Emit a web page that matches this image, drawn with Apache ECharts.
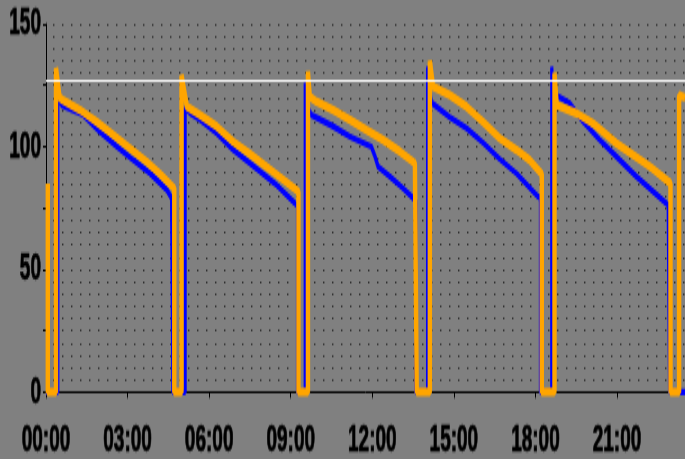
<!DOCTYPE html>
<html><head><meta charset="utf-8">
<script src="https://cdn.jsdelivr.net/npm/echarts@6/dist/echarts.min.js"></script>
<style>
html,body{margin:0;padding:0;background:#808080;overflow:hidden;width:685px;height:459px;}
#chart{width:685px;height:230px;transform:scaleY(1.99565);transform-origin:0 0;}
</style></head><body><div id="chart"></div>
<script>
const xTickLabels = ["00:00","03:00","06:00","09:00","12:00","15:00","18:00","21:00"];
const yTickLabels = [0, 50, 100, 150];
const limitValue = 127;

const blueTimes = ["00:00","00:26","00:26","00:35","01:22","01:59","02:37","03:12","03:49","04:27","04:37","04:40","04:40",
  "05:07","05:07","05:18","05:40","06:17","06:53","07:30","08:25","09:09","09:15","09:15",
  "09:32","09:32","09:37","09:46","10:34","11:11","11:58","12:06","12:13","12:39","13:08","13:30","13:36","13:36",
  "14:02","14:02","14:10","14:14","14:51","15:28","16:05","16:41","17:18","18:06","18:11","18:11",
  "18:36","18:36","18:38","18:50","19:16","19:45","20:22","20:59","21:43","22:53","22:56","22:56","23:30"];
const blueValues = [0,0,120,117,113,106,100,94.6,89.2,82.3,79,78.5,0,
  0,116,113.6,110.9,105.4,98.7,93.2,85,77,76,0,
  0,126,116,112.9,108.2,104,100,96,91.8,87.8,83,79,78,0,
  0,132.6,118,117.6,112,107.5,101.5,95,89.1,79.6,79,0,
  0,132.6,119,120.5,117.6,110.2,102.7,95.9,87.8,76.2,76,0,0];

const orangeTimes = ["00:04","00:04","00:22","00:22","00:30","00:37","01:15","01:52","02:28","03:05","03:42","04:11","04:27","04:43","04:43",
  "04:59","04:59","05:11","05:40","06:17","06:53","07:30","08:25","09:17","09:17",
  "09:38","09:38","09:42","09:57","10:34","11:11","11:47","12:24","13:01","13:34","13:38","13:38",
  "14:07","14:07","14:14","14:51","15:28","16:05","16:41","17:18","17:47","18:14","18:14",
  "18:42","18:42","18:47","19:31","20:07","20:59","22:13","22:58","22:58","23:17","23:17","23:30"];
const orangeValues = [85,0,0,132,120,119,115,110,104.8,99.3,93.9,89,86,83,0,
  0,129,116.3,112.9,108.2,102,97,89.2,81.7,0,
  0,130.6,120.4,118.3,115,110.9,106.8,102.7,98,93.2,92.5,0,
  0,135,124.5,121,116.3,110,103.4,98.7,94.6,88.8,0,
  0,130,117,113.6,109.5,101.3,91.8,85,0,0,121,120];

function toHours(s){ const p = s.split(':').map(Number); return p[0] + p[1]/60; }
const pair = (times, vals) => times.map((t,i)=>[toHours(t), vals[i]]);

const FONT = "'Liberation Sans', Arial, sans-serif";
const labelStyle = {color:'#000', fontSize:19, fontWeight:'bold', fontFamily:FONT,
  textBorderColor:'#000', textBorderWidth:0.5};
const dotStyle = {color:'#111', width:1, type:[1,8], dashOffset:1.7};

const chart = echarts.init(document.getElementById('chart'));
chart.setOption({
  animation:false,
  backgroundColor:'#808080',
  grid:{left:46, right:0, top:12, bottom:33.6, containLabel:false, outerBoundsMode:'none'},
  xAxis:{type:'value', min:0, max:23.5, interval:3,
    axisLine:{show:true, onZero:false, lineStyle:{color:'#000', width:1}},
    axisTick:{show:true, length:3, lineStyle:{color:'#000', width:1}},
    axisLabel:Object.assign({margin:15,
      formatter:v => (v % 3 === 0 && v/3 < xTickLabels.length) ? xTickLabels[v/3] : ''}, labelStyle),
    splitLine:{show:false}},
  yAxis:{type:'value', min:0, max:150, interval:25,
    axisLine:{show:true, lineStyle:{color:'#000', width:1}},
    axisTick:{show:true, length:3, lineStyle:{color:'#000', width:1}},
    axisLabel:Object.assign({margin:5, padding:[3,0,0,0],
      formatter:v => yTickLabels.includes(v) ? String(v) : ''}, labelStyle),
    splitLine:{show:true, lineStyle:dotStyle},
    minorTick:{show:false, splitNumber:5},
    minorSplitLine:{show:true, lineStyle:dotStyle}},
  series:[
    {type:'line', data:pair(blueTimes, blueValues), symbol:'none', clip:false, z:2,
      lineStyle:{color:'#0000ff', width:3.2}, itemStyle:{color:'#0000ff'}},
    {type:'line', data:pair(orangeTimes, orangeValues), symbol:'none', clip:false, z:3,
      lineStyle:{color:'#ffa500', width:4.4}, itemStyle:{color:'#ffa500'}},
    {type:'line', data:[], z:5,
      markLine:{silent:true, symbol:'none', label:{show:false},
        lineStyle:{color:'#ffffff', width:1.2, type:'solid'}, data:[{yAxis:limitValue}]}}
  ]
});
</script></body></html>
